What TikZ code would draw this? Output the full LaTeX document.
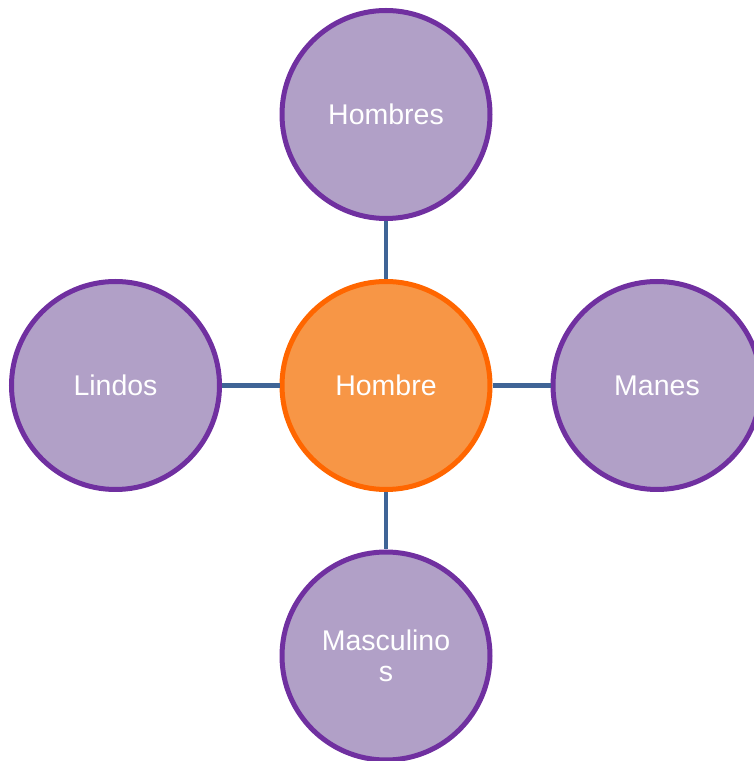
\documentclass[tikz,border=0pt]{standalone}
\usepackage{fontspec}
\setmainfont{Liberation Sans}
\usepackage{xcolor}
\definecolor{leafFill}{HTML}{B1A0C7}
\definecolor{leafLine}{HTML}{7030A0}
\definecolor{hubFill}{HTML}{F79646}
\definecolor{hubLine}{HTML}{FF6600}
\definecolor{linkBlue}{HTML}{3F6496}

\tikzset{
  leaf/.style={circle, draw=leafLine, fill=leafFill, line width=5pt, minimum size=208pt, inner sep=0pt, text=white, font=\fontsize{28.5}{31}\selectfont, align=center},
  hub/.style={leaf, draw=hubLine, fill=hubFill},
  link/.style={draw=linkBlue, line width=4.5pt}
}

\begin{document}
\begin{tikzpicture}[x=1pt, y=1pt]
  \useasboundingbox (0, 0) rectangle (754, 761);
  \clip (0, 0) rectangle (754, 761);

  % Center word
  \node[hub] (hombre) at (386, 375.5) {Hombre};

  % Related words
  \node[leaf] (hombres) at (386, 646.5) {Hombres};
  \node[leaf] (lindos) at (115.5, 375.5) {Lindos};
  \node[leaf] (manes) at (657, 375.5) {Manes};
  \node[leaf] (masculinos) at (386, 105) {Masculino\\s};

  % Links
  \draw[link] (hombre) -- (hombres);
  \draw[link] (hombre) -- (lindos);
  \draw[link] (hombre) -- (manes);
  \draw[link] (hombre) -- (masculinos);
\end{tikzpicture}
\end{document}
